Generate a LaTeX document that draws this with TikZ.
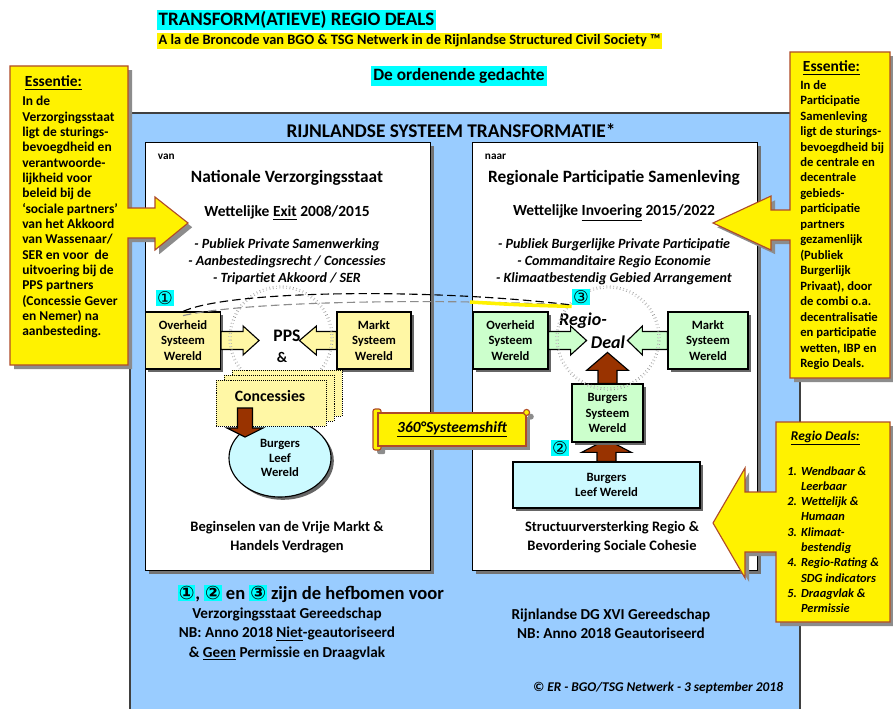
\documentclass[tikz,border=0pt]{standalone}
\usepackage{fontspec}
\setmainfont{Carlito}
\newfontfamily\dejavu{DejaVu Sans}
\usetikzlibrary{shapes.geometric,shadows}

\definecolor{frameblue}{RGB}{153,204,255}
\definecolor{calloutrim}{RGB}{175,75,40}
\definecolor{paleyel}{RGB}{255,247,165}
\definecolor{palegreen}{RGB}{204,255,204}
\definecolor{palecyan}{RGB}{204,250,255}
\definecolor{rust}{RGB}{153,51,0}
\definecolor{hlcyan}{RGB}{0,255,255}

\newcommand{\setfs}[2]{\fontsize{#1}{#2}\selectfont}
\newcommand{\nr}[1]{{\setlength{\fboxsep}{0.6pt}\colorbox{hlcyan}{\dejavu #1}}}

\begin{document}
\begin{tikzpicture}[x=0.025cm,y=-0.025cm,
	panel/.style={draw=black,fill=white,minimum width=7.125cm,minimum height=10.7cm,drop shadow={shadow xshift=3pt,shadow yshift=-3pt,fill=black!55,opacity=1}},
	sysbox/.style={draw=black,thick,minimum height=1.425cm,align=center,inner sep=1pt,font=\bfseries\setfs{9}{11.2},drop shadow={shadow xshift=2pt,shadow yshift=-2pt,fill=black!60,opacity=1}},
	pics/blockarrow/.style n args={5}{code={
		\draw[draw=black,thick,fill=#5] (0,-#1) -- (#3,-#1) -- (#3,-#2) -- (#3+#4,0) -- (#3,#2) -- (#3,#1) -- (0,#1) -- cycle;}},
	ring/.style={circle,draw=black!60,dotted,double,double distance=1.2pt,minimum size=2.55cm},
	callout/.style={fill=yellow,draw=calloutrim,thick,drop shadow={shadow xshift=3pt,shadow yshift=-3pt,fill=black!45,opacity=1}},
	]
	\useasboundingbox (0,0) rectangle (893,709);
	\fill[white] (0,0) rectangle (893,709);

	%title lines
	\node[anchor=west,fill=hlcyan,inner sep=1pt,font=\bfseries\setfs{13.5}{15}] (title) at (157,20) {TRANSFORM(ATIEVE) REGIO DEALS};
	\node[anchor=west,fill=yellow,inner sep=1pt,font=\bfseries\setfs{10.2}{11}] (subtitle) at (157,41) {A la de Broncode van BGO \& TSG Netwerk in de Rijnlandse Structured Civil Society ™};
	\node[fill=hlcyan,inner sep=1.5pt,font=\bfseries\setfs{12.3}{14}] (gedachte) at (459,76) {De ordenende gedachte};

	%blue frame
	\fill[frameblue] (130,113) rectangle (800,709);
	\draw[black!75,line width=1.2pt] (130,709) -- (130,113) -- (800,113) -- (800,709);
	\node[font=\bfseries\setfs{13.8}{15}] (rijnland) at (451,131) {RIJNLANDSE SYSTEEM TRANSFORMATIE*};
	\node[panel] (lpanel) at (287.5,356) {};
	\node[panel] (rpanel) at (614.5,356) {};

	%left panel
	\node[anchor=west,font=\bfseries\setfs{8}{9}] (van) at (153,157) {van};
	\node[font=\bfseries\setfs{12.3}{14}] (natvz) at (287,178) {Nationale Verzorgingsstaat};
	\node[font=\bfseries\setfs{11}{13}] (exit) at (287,213) {Wettelijke \underline{Exit} 2008/2015};
	\node[align=center,font=\bfseries\itshape\setfs{10}{12}] (lbul) at (287,262) {- Publiek Private Samenwerking\\- Aanbestedingsrecht / Concessies\\- Tripartiet Akkoord / SER};
	\node[sysbox,fill=paleyel,minimum width=1.875cm] (lov) at (183,340.5) {Overheid\\Systeem\\Wereld};
	\node[sysbox,fill=paleyel,minimum width=1.85cm] (lmk) at (374,340.5) {Markt\\Systeem\\Wereld};
	\pic (lovarr) at (lov.east) {blockarrow={9}{14.5}{22}{16}{paleyel}};
	\pic[rotate=180] (lmkarr) at (lmk.west) {blockarrow={9}{14.5}{20}{17}{paleyel}};
	\node[font=\bfseries\setfs{12.5}{14}] (pps) at (287,336) {PPS};
	\node[font=\bfseries\setfs{10.5}{12}] (ppsen) at (282,357) {\&};
	\node[ring] (lring) at (281,338) {};
	\node[ellipse,draw=black,thick,fill=palecyan,minimum width=2.55cm,minimum height=1.95cm,align=center,inner sep=0pt,font=\bfseries\setfs{9}{10.6},drop shadow={shadow xshift=2pt,shadow yshift=-2pt,fill=black!60,opacity=1}] (lblw) at (280,458) {Burgers\\Leef\\Wereld};
	\foreach \i in {2,1,0}
		\node[draw=black,densely dotted,fill=paleyel,minimum width=2.75cm,minimum height=1.15cm] (conc\i) at (271+8*\i,403-5*\i) {};
	\node[font=\bfseries\setfs{11.2}{13}] (conctxt) at (270,396) {Concessies};
	\pic[rotate=-90] (concarr) at (245,408) {blockarrow={7.5}{18}{20}{9}{rust}};
	\node[align=center,font=\bfseries\setfs{10.3}{14}] (lbegin) at (287,537) {Beginselen van de Vrije Markt \&\\Handels Verdragen};

	%right panel
	\node[anchor=west,font=\bfseries\setfs{8}{9}] (naar) at (480,157) {naar};
	\node[font=\bfseries\setfs{12.3}{14}] (regpart) at (614,178) {Regionale Participatie Samenleving};
	\node[font=\bfseries\setfs{11}{13}] (invoer) at (614,213) {Wettelijke \underline{Invoering} 2015/2022};
	\node[align=center,font=\bfseries\itshape\setfs{10}{12}] (rbul) at (614,262) {- Publiek Burgerlijke Private Participatie\\- Commanditaire Regio Economie\\- Klimaatbestendig Gebied Arrangement};
	\node[sysbox,fill=palegreen,minimum width=1.875cm] (rov) at (510.5,340.5) {Overheid\\Systeem\\Wereld};
	\node[sysbox,fill=palegreen,minimum width=2cm] (rmk) at (708,340.5) {Markt\\Systeem\\Wereld};
	\pic (rovarr) at (rov.east) {blockarrow={9}{14.5}{22}{16}{palegreen}};
	\pic[rotate=180] (rmkarr) at (rmk.west) {blockarrow={9}{14.5}{25}{15}{palegreen}};
	\node[font=\bfseries\itshape\setfs{12.8}{15}] (regioA) at (583,321) {Regio-};
	\node[font=\bfseries\itshape\setfs{12.8}{15}] (regioB) at (608,342) {Deal};
	\node[sysbox,fill=palecyan,minimum width=4.675cm,minimum height=1.15cm] (rblw) at (606.5,485) {Burgers\\Leef Wereld};
	\pic[rotate=90] (rblwarr) at (rblw.north) {blockarrow={9.5}{25}{9}{13}{rust}};
	\node[sysbox,fill=palegreen,minimum width=1.775cm,minimum height=1.45cm] (bsw) at (607.5,413) {Burgers\\Systeem\\Wereld};
	\pic[rotate=90] (bswarr) at (bsw.north) {blockarrow={9.5}{21}{13}{18}{rust}};
	\node[ring] (rring) at (608,338) {};
	\node[align=center,font=\bfseries\setfs{10.3}{14}] (rstruct) at (612,537) {Structuurversterking Regio \&\\Bevordering Sociale Cohesie};

	%levers
	\node[inner sep=0.8pt,fill=hlcyan,font=\dejavu\setfs{12.5}{13}] (een) at (165,298) {①};
	\node[inner sep=0.8pt,fill=hlcyan,font=\dejavu\setfs{12.5}{13}] (drie) at (581,297) {③};
	\node[inner sep=0.8pt,fill=hlcyan,font=\dejavu\setfs{12.5}{13}] (twee) at (560,448) {②};
	\draw[black!45,thick,dash pattern=on 6pt off 3pt] ([yshift=-3pt]lov.north) .. controls (240,302) and (420,298) .. (drie.south west);
	\draw[yellow,line width=2.5pt] (470,302) .. controls (520,305) .. ([yshift=-1pt]drie.south west);
	\draw[thick,dash pattern=on 6pt off 3pt] (lov.north) .. controls (230,290) and (430,288) .. (drie.south west);

	%callouts
	\draw[callout] (10,66) -- (128,66) -- (128,208) -- (155,208) -- (155,197) -- (188,223) -- (155,250) -- (155,238) -- (128,238) -- (128,365) -- (10,365) -- cycle;
	\node[anchor=west,font=\bfseries\setfs{11}{13}] (lesshead) at (20,83) {\underline{Essentie:}};
	\node[anchor=north west,align=left,inner sep=0pt,font=\bfseries\setfs{9.6}{10.9}] (lessbody) at (22,96) {In de\\Verzorgingsstaat\\ligt de sturings-\\bevoegdheid en\\verantwoorde-\\lijkheid voor\\beleid bij de\\‘sociale partners’\\van het Akkoord\\van Wassenaar/\\SER en voor~ de\\uitvoering bij de\\PPS partners\\(Concessie Gever\\en Nemer) na\\aanbesteding.};

	\draw[callout] (790,52) -- (890,52) -- (890,378) -- (790,378) -- (790,240) -- (771,240) -- (771,250) -- (713,223) -- (771,196) -- (771,210) -- (790,210) -- cycle;
	\node[anchor=west,font=\bfseries\setfs{11}{13}] (ressHead) at (798,68) {\underline{Essentie:}};
	\node[anchor=north west,align=left,inner sep=0pt,font=\bfseries\setfs{9}{11}] (ressbody) at (800,80) {In de\\Participatie\\Samenleving\\ligt de sturings-\\bevoegdheid bij\\de centrale en\\decentrale\\gebieds-\\participatie\\partners\\gezamenlijk\\(Publiek\\Burgerlijk\\Privaat), door\\de combi o.a.\\decentralisatie\\en participatie\\wetten, IBP en\\Regio Deals.};

	\draw[callout] (776,422) -- (890,422) -- (890,622) -- (776,622) -- (776,552) -- (745,552) -- (745,578) -- (713,523) -- (745,468) -- (745,492) -- (776,492) -- cycle;
	\node[anchor=west,font=\bfseries\itshape\setfs{9.5}{11}] (dealhead) at (786,438) {\underline{Regio Deals:}};
	\node[anchor=north west,inner sep=0pt,font=\bfseries\itshape\setfs{8.8}{10.9}] (deallist) at (787,464) {\begin{tabular}{@{}l@{\hspace{3pt}}l@{}}1. & Wendbaar \&\\ & Leerbaar\\2. & Wettelijk \&\\ & Humaan\\3. & Klimaat-\\ & bestendig\\4. & Regio-Rating \&\\ & SDG indicators\\5. & Draagvlak \&\\ & Permissie\end{tabular}};

	%scroll
	\draw[callout,rounded corners=1.5pt] (373,409) rectangle (381,450);
	\node[callout,minimum width=3.7cm,minimum height=0.825cm,font=\bfseries\itshape\setfs{11}{13}] (shift) at (452,429.5) {\underline{360°Systeemshift}};
	\draw[callout] (shift.north east) circle (3);

	%bottom texts
	\node[anchor=west,font=\bfseries\setfs{13.2}{15}] (hefboom) at (173,594) {\nr{①}, \nr{②} en \nr{③} zijn de hefbomen voor};
	\node[align=center,font=\bfseries\setfs{10.8}{13.8}] (lgereed) at (287,634) {Verzorgingsstaat Gereedschap\\NB: Anno 2018 \underline{Niet}-geautoriseerd\\\& \underline{Geen} Permissie en Draagvlak};
	\node[align=center,font=\bfseries\setfs{10.8}{13.8}] (rgereed) at (611,624) {Rijnlandse DG XVI Gereedschap\\NB: Anno 2018 Geautoriseerd};
	\node[anchor=east,font=\bfseries\itshape\setfs{9.5}{11}] (copyr) at (788,688) {© ER - BGO/TSG Netwerk - 3 september 2018};
\end{tikzpicture}
\end{document}
